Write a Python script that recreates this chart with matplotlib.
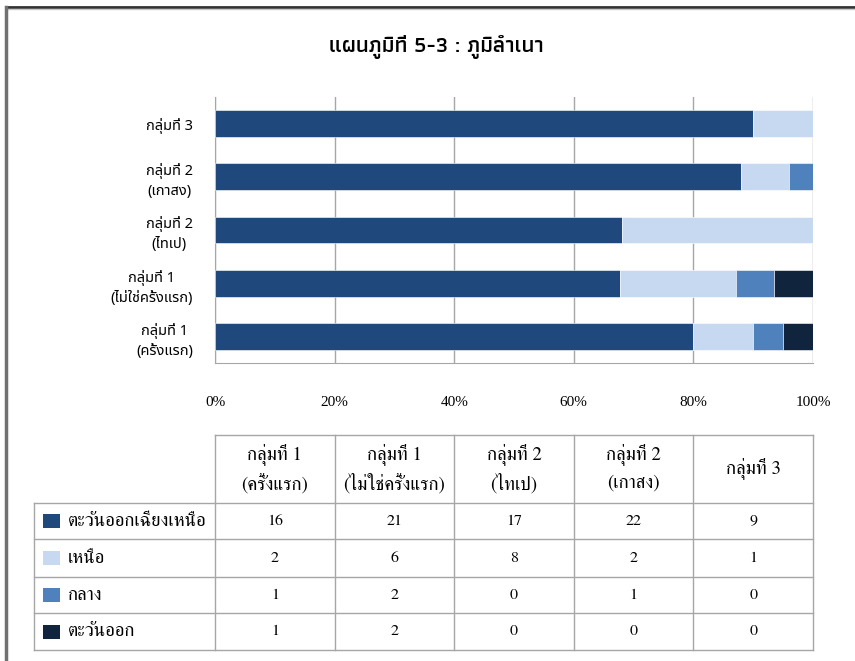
import matplotlib
matplotlib.use("Agg")
import matplotlib.pyplot as plt
from matplotlib.patches import Rectangle

# -------------------------------------------------------
# Datos (leidos de la tabla)
# -------------------------------------------------------
grupos = ["กลุ่มที่ 1\n(ครั้งแรก)", "กลุ่มที่ 1\n(ไม่ใช่ครั้งแรก)", "กลุ่มที่ 2\n(ไทเป)",
          "กลุ่มที่ 2\n(เกาสง)", "กลุ่มที่ 3"]
regiones = ["ตะวันออกเฉียงเหนือ", "เหนือ", "กลาง", "ตะวันออก"]
noreste  = [16, 21, 17, 22, 9]
norte    = [2, 6, 8, 2, 1]
centro   = [1, 2, 0, 1, 0]
este     = [1, 2, 0, 0, 0]
colores  = ["#1F497D", "#C6D9F1", "#4F81BD", "#10243E"]
ticks_x  = [0, 20, 40, 60, 80, 100]

series = [noreste, norte, centro, este]
titulo = "แผนภูมิที่ 5-3 : ภูมิลำเนา"

FUENTE_TAB = ["FreeSerif", "DejaVu Serif"]
FUENTE_EJE = ["Noto Sans Thai", "DejaVu Sans"]

W, H = 855, 661
def fx(px):
    return px / W
def fy(py):
    return 1 - py / H

fig = plt.figure(figsize=(W / 100, H / 100), dpi=100)

# -------------------------------------------------------
# Barras apiladas al 100%
# -------------------------------------------------------
ax = fig.add_axes([fx(215), fy(363), fx(813) - fx(215), fy(97) - fy(363)])
totales = [sum(v) for v in zip(*series)]
izq = [0.0] * len(grupos)
for vals, col in zip(series, colores):
    pct = [100.0 * v / t for v, t in zip(vals, totales)]
    ax.barh(range(len(grupos)), pct, left=izq, height=0.5, color=col,
            edgecolor="white", linewidth=0.4, zorder=3)
    izq = [a + b for a, b in zip(izq, pct)]

ax.set_xlim(0, 100)
ax.set_ylim(-0.5, len(grupos) - 0.5)
ax.set_xticks(ticks_x)
ax.set_xticklabels([str(t) + "%" for t in ticks_x], family=["Liberation Serif"], fontsize=11)
ax.set_yticks(range(len(grupos)))
ax.set_yticklabels(grupos, family=FUENTE_EJE, fontsize=10.5, linespacing=1.45)
for lbl in ax.get_yticklabels():
    lbl.set_multialignment("center")
ax.tick_params(axis="x", length=0, pad=24)
ax.tick_params(axis="y", length=0, pad=16)
ax.grid(axis="x", color="#A6A6A6", linewidth=1, zorder=0)
ax.set_axisbelow(True)
for s in ["top", "right"]:
    ax.spines[s].set_visible(False)
for s in ["left", "bottom"]:
    ax.spines[s].set_color("#A6A6A6")

fig.text(fx(436), fy(47), titulo, ha="center", va="center",
         family=["Athiti", "DejaVu Sans"], fontweight="semibold", fontsize=16)

# -------------------------------------------------------
# Tabla de datos debajo del grafico
# -------------------------------------------------------
tab = fig.add_axes([0, 0, 1, 1])
tab.set_xlim(0, W)
tab.set_ylim(H, 0)
tab.axis("off")

a_px = ax.transData + tab.transData.inverted()
cols_x = [a_px.transform((t, 0))[0] for t in ticks_x]
x_izq = 34
filas_y = [503, 539, 577, 613, 650]
y_cab = 435
gris = "#A6A6A6"

tab.plot([cols_x[0], cols_x[-1]], [y_cab, y_cab], color=gris, lw=1)
for y in filas_y:
    tab.plot([x_izq, cols_x[-1]], [y, y], color=gris, lw=1)
tab.plot([x_izq, x_izq], [filas_y[0], filas_y[-1]], color=gris, lw=1)
for x in cols_x:
    tab.plot([x, x], [y_cab, filas_y[-1]], color=gris, lw=1)

for j, g in enumerate(grupos):
    xc = (cols_x[j] + cols_x[j + 1]) / 2
    lineas = g.split("\n")
    if len(lineas) == 1:
        tab.text(xc, (y_cab + filas_y[0]) / 2, lineas[0], ha="center", va="center",
                 family=FUENTE_TAB, fontsize=13.5)
    else:
        for k, l in enumerate(lineas):
            tab.text(xc, 455 + 28 * k, l, ha="center", va="center",
                     family=FUENTE_TAB, fontsize=13.5)

for i, (reg, vals, col) in enumerate(zip(regiones, series, colores)):
    yc = (filas_y[i] + filas_y[i + 1]) / 2
    tab.add_patch(Rectangle((43, yc - 7), 17, 14, facecolor=col, edgecolor="none"))
    tab.text(68, yc, reg, ha="left", va="center", family=FUENTE_TAB, fontsize=13.5)
    for j, v in enumerate(vals):
        xc = (cols_x[j] + cols_x[j + 1]) / 2
        tab.text(xc, yc, str(v), ha="center", va="center", family=FUENTE_TAB, fontsize=11.5)

# marco exterior (solo arriba e izquierda)
tab.plot([6, W], [7, 7], color="#333333", lw=2)
tab.plot([6, W], [9, 9], color="#C8C8C8", lw=1)
tab.plot([6, 6], [7, H], color="#707070", lw=2.5)

fig.savefig("out.png")
